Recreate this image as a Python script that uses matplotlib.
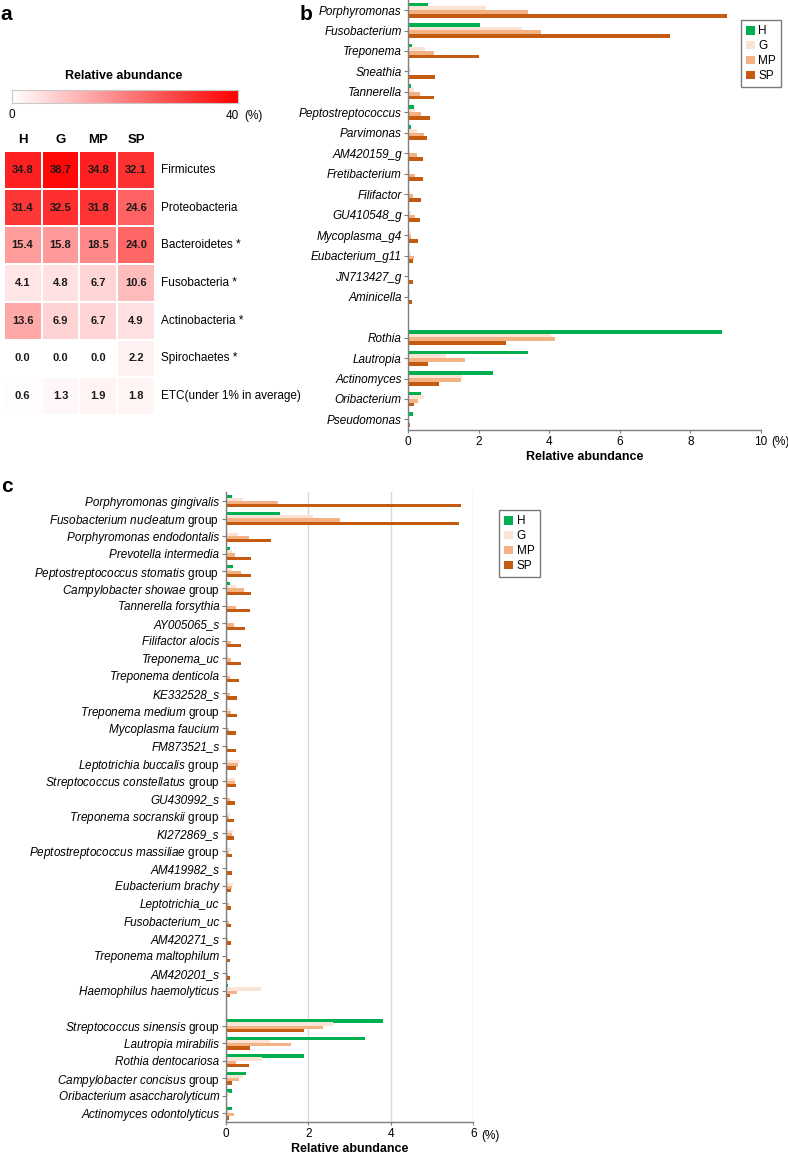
import numpy as np
import matplotlib
matplotlib.use("Agg")
import matplotlib.pyplot as plt
from matplotlib.colors import LinearSegmentedColormap
from matplotlib.patches import Patch

plt.rcParams['font.family'] = ['Liberation Sans', 'DejaVu Sans']
plt.rcParams['mathtext.fontset'] = 'custom'
plt.rcParams['mathtext.rm'] = 'Liberation Sans'
plt.rcParams['mathtext.it'] = 'Liberation Sans:italic'

# ---- panel a: phylum level heatmap ----
groups = ['H', 'G', 'MP', 'SP']
phyla = ['Firmicutes', 'Proteobacteria', 'Bacteroidetes *', 'Fusobacteria *',
         'Actinobacteria *', 'Spirochaetes *', 'ETC(under 1% in average)']
phylum_H = [34.8, 31.4, 15.4, 4.1, 13.6, 0.0, 0.6]
phylum_G = [38.7, 32.5, 15.8, 4.8, 6.9, 0.0, 1.3]
phylum_MP = [34.8, 31.8, 18.5, 6.7, 6.7, 0.0, 1.9]
phylum_SP = [32.1, 24.6, 24.0, 10.6, 4.9, 2.2, 1.8]

# ---- panel b: genus level ----
genus = ['Porphyromonas', 'Fusobacterium', 'Treponema', 'Sneathia', 'Tannerella',
         'Peptostreptococcus', 'Parvimonas', 'AM420159_g', 'Fretibacterium',
         'Filifactor', 'GU410548_g', 'Mycoplasma_g4', 'Eubacterium_g11',
         'JN713427_g', 'Aminicella',
         'Rothia', 'Lautropia', 'Actinomyces', 'Oribacterium', 'Pseudomonas']
genus_n_top = 15
genus_H = [0.57, 2.05, 0.12, 0.0, 0.09, 0.18, 0.09, 0.0, 0.0, 0.03, 0.0, 0.0, 0.0, 0.0, 0.0,
           8.89, 3.40, 2.42, 0.36, 0.14]
genus_G = [2.22, 3.22, 0.47, 0.08, 0.16, 0.21, 0.26, 0.05, 0.07, 0.05, 0.08, 0.08, 0.08, 0.03, 0.06,
           4.06, 1.09, 1.54, 0.44, 0.02]
genus_MP = [3.41, 3.78, 0.75, 0.02, 0.35, 0.38, 0.44, 0.26, 0.19, 0.13, 0.19, 0.08, 0.16, 0.02, 0.03,
            4.16, 1.61, 1.49, 0.29, 0.03]
genus_SP = [9.05, 7.42, 2.02, 0.76, 0.73, 0.61, 0.53, 0.43, 0.42, 0.38, 0.33, 0.27, 0.13, 0.13, 0.10,
            2.79, 0.58, 0.89, 0.16, 0.07]

# ---- panel c: species level ----
species = ['Porphyromonas gingivalis', 'Fusobacterium nucleatum group',
           'Porphyromonas endodontalis', 'Prevotella intermedia',
           'Peptostreptococcus stomatis group', 'Campylobacter showae group',
           'Tannerella forsythia', 'AY005065_s', 'Filifactor alocis', 'Treponema_uc',
           'Treponema denticola', 'KE332528_s', 'Treponema medium group',
           'Mycoplasma faucium', 'FM873521_s', 'Leptotrichia buccalis group',
           'Streptococcus constellatus group', 'GU430992_s', 'Treponema socranskii group',
           'KI272869_s', 'Peptostreptococcus massiliae group', 'AM419982_s',
           'Eubacterium brachy', 'Leptotrichia_uc', 'Fusobacterium_uc', 'AM420271_s',
           'Treponema maltophilum', 'AM420201_s', 'Haemophilus haemolyticus',
           'Streptococcus sinensis group', 'Lautropia mirabilis', 'Rothia dentocariosa',
           'Campylobacter concisus group', 'Oribacterium asaccharolyticum',
           'Actinomyces odontolyticus']
species_n_top = 29
species_H = [0.15, 1.32, 0.04, 0.11, 0.18, 0.10, 0.04, 0.0, 0.02, 0.01,
             0.0, 0.0, 0.02, 0.0, 0.0, 0.0, 0.0, 0.0, 0.02, 0.02,
             0.0, 0.0, 0.0, 0.0, 0.0, 0.0, 0.0, 0.0, 0.05,
             3.80, 3.37, 1.89, 0.49, 0.15, 0.15]
species_G = [0.43, 2.12, 0.30, 0.15, 0.15, 0.25, 0.06, 0.05, 0.05, 0.08,
             0.05, 0.04, 0.10, 0.03, 0.02, 0.35, 0.22, 0.03, 0.11, 0.18,
             0.13, 0.02, 0.17, 0.03, 0.02, 0.02, 0.02, 0.02, 0.85,
             2.61, 1.07, 0.88, 0.41, 0.08, 0.09]
species_MP = [1.27, 2.77, 0.57, 0.23, 0.37, 0.44, 0.26, 0.20, 0.13, 0.13,
              0.10, 0.10, 0.14, 0.08, 0.05, 0.31, 0.23, 0.10, 0.07, 0.15,
              0.09, 0.03, 0.15, 0.08, 0.07, 0.05, 0.03, 0.06, 0.27,
              2.35, 1.58, 0.24, 0.32, 0.04, 0.19]
species_SP = [5.70, 5.66, 1.10, 0.62, 0.61, 0.61, 0.58, 0.46, 0.37, 0.36,
              0.33, 0.28, 0.27, 0.26, 0.25, 0.25, 0.24, 0.23, 0.20, 0.19,
              0.16, 0.15, 0.14, 0.13, 0.13, 0.12, 0.11, 0.11, 0.11,
              1.90, 0.58, 0.57, 0.15, 0.02, 0.07]

colors = ['#00B050', '#FBE3D6', '#F4B183', '#C55A11']
axis_gray = '#7F7F7F'
FS = 8.5

W, H = 788, 1159
fig = plt.figure(figsize=(W / 100, H / 100), dpi=100)


def px_axes(x0, y0, x1, y1):
    # pixel box (top-down) -> figure fraction axes
    return fig.add_axes([x0 / W, 1 - y1 / H, (x1 - x0) / W, (y1 - y0) / H])


def fig_text(x, y, s, **kw):
    fig.text(x / W, 1 - y / H, s, **kw)


def fmt_label(name):
    if name.endswith(' group'):
        base = name[:-6].replace(' ', r'\ ').replace('_', r'\_')
        return r'$\mathit{' + base + '}$ group', 'normal'
    return name, 'italic'


def bar_panel(ax, names, series, n_top, xmax, step):
    idx = np.arange(len(names))
    pos = idx + (idx >= n_top)
    offsets = [-0.27, -0.09, 0.09, 0.27]
    for vals, col, off, lab in zip(series, colors, offsets, groups):
        ax.barh(pos + off, vals, height=0.19, color=col, label=lab, linewidth=0)
    ax.set_ylim(pos[-1] + 0.5, -0.5)
    ax.set_xlim(0, xmax)
    ax.set_xticks(np.arange(0, xmax + 0.1, step))
    ax.set_xticklabels([str(int(v)) for v in np.arange(0, xmax + 0.1, step)], fontsize=FS)
    ax.set_yticks(pos)
    labs = [fmt_label(n) for n in names]
    ax.set_yticklabels([l[0] for l in labs], fontsize=FS)
    for t, l in zip(ax.get_yticklabels(), labs):
        t.set_fontstyle(l[1])
    for s in ['top', 'right']:
        ax.spines[s].set_visible(False)
    for s in ['left', 'bottom']:
        ax.spines[s].set_color(axis_gray)
        ax.spines[s].set_linewidth(1)
    ax.tick_params(axis='y', length=3, pad=1.5, color=axis_gray)
    ax.tick_params(axis='x', length=2.5, pad=2, color=axis_gray)
    ax.set_xlabel('Relative abundance', fontsize=9, fontweight='bold', labelpad=2)


def add_legend(ax, x, y):
    handles = [Patch(facecolor=c, edgecolor='none', label=g) for c, g in zip(colors, groups)]
    leg = ax.legend(handles=handles, loc='upper left', bbox_to_anchor=(x / W, 1 - y / H),
                    bbox_transform=fig.transFigure, fontsize=FS, frameon=True, fancybox=False,
                    handlelength=0.75, handleheight=0.75, handletextpad=0.3,
                    labelspacing=0.25, borderpad=0.45, borderaxespad=0)
    leg.get_frame().set_edgecolor('#595959')
    leg.get_frame().set_linewidth(1)


# ---- panel a ----
cmap = LinearSegmentedColormap.from_list('wr', ['#FFFFFF', '#FF0000'])
ax_cb = px_axes(12.3, 90, 238.3, 102.7)
ax_cb.imshow(np.linspace(0, 40, 256)[None, :], aspect='auto', cmap=cmap, vmin=0, vmax=40)
ax_cb.set_xticks([])
ax_cb.set_yticks([])
for s in ax_cb.spines.values():
    s.set_color('#C8C8C8')
fig_text(124, 76, 'Relative abundance', ha='center', va='center', fontsize=9, fontweight='bold')
fig_text(12, 115, '0', ha='center', va='center', fontsize=FS)
fig_text(232, 116, '40', ha='center', va='center', fontsize=FS)
fig_text(244, 116, '(%)', ha='left', va='center', fontsize=FS)

ax_hm = px_axes(3.7, 151, 155, 415)
mat = np.array([phylum_H, phylum_G, phylum_MP, phylum_SP]).T
ax_hm.pcolormesh(np.arange(5), np.arange(8), mat, cmap=cmap, vmin=0, vmax=40,
                 edgecolors='white', linewidth=1.2)
ax_hm.set_xlim(0, 4)
ax_hm.set_ylim(7, 0)
ax_hm.axis('off')
for i in range(mat.shape[0]):
    for j in range(mat.shape[1]):
        ax_hm.text(j + 0.5, i + 0.5, f'{mat[i, j]:.1f}', ha='center', va='center',
                   fontsize=8, fontweight='bold', color='#1A1A1A')
    ax_hm.text(4 + 6 / 37.8, i + 0.5, phyla[i], ha='left', va='center', fontsize=FS,
               clip_on=False)
for j, g in enumerate(groups):
    ax_hm.text(j + 0.5, -0.3, g, ha='center', va='center', fontsize=9.5,
               fontweight='bold', clip_on=False)

# ---- panel b ----
ax_b = px_axes(408, -0.2, 761, 429.7)
bar_panel(ax_b, genus, [genus_H, genus_G, genus_MP, genus_SP], genus_n_top, 10, 2)
add_legend(ax_b, 740.7, 20)
fig_text(771, 442, '(%)', ha='left', va='center', fontsize=FS)

# ---- panel c ----
ax_c = px_axes(225.7, 492.3, 473.3, 1121.9)
bar_panel(ax_c, species, [species_H, species_G, species_MP, species_SP],
          species_n_top, 6, 2)
ax_c.xaxis.grid(True, color='#D9D9D9', linewidth=1)
ax_c.set_axisbelow(True)
add_legend(ax_c, 499, 510)
fig_text(481, 1136, '(%)', ha='left', va='center', fontsize=FS)

# panel letters
fig_text(0, 14, 'a', ha='left', va='center', fontsize=15, fontweight='bold')
fig_text(300, 14, 'b', ha='left', va='center', fontsize=15, fontweight='bold')
fig_text(1, 487, 'c', ha='left', va='center', fontsize=15, fontweight='bold')

fig.savefig('out.png', dpi=100)
